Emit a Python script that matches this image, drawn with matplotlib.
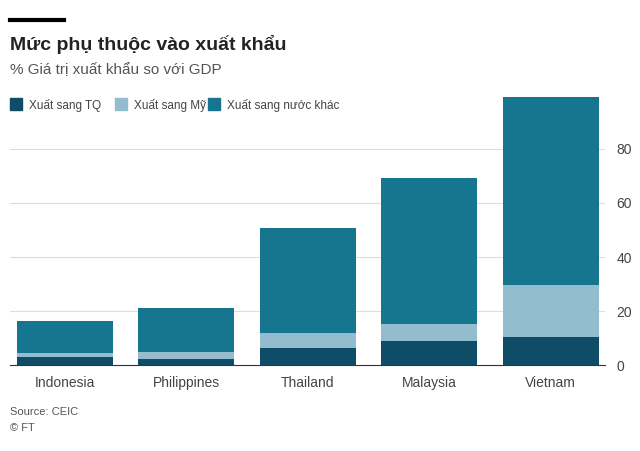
import matplotlib
matplotlib.use("Agg")
import matplotlib.pyplot as plt
import numpy as np

countries = ["Indonesia", "Philippines", "Thailand", "Malaysia", "Vietnam"]
to_china = [3.0, 2.2, 6.3, 8.8, 10.3]
to_us = [1.4, 2.6, 5.5, 6.3, 19.2]
to_other = [11.8, 16.2, 39.1, 54.2, 69.7]
yticks = [0, 20, 40, 60, 80]
labels = ["Xuất sang TQ", "Xuất sang Mỹ", "Xuất sang nước khác"]
colors = ["#0f4c68", "#93bccf", "#16758f"]

plt.rcParams["font.family"] = "Liberation Sans"
fig = plt.figure(figsize=(6.4, 4.51), dpi=100)
ax = fig.add_axes([0.016, 0.19, 0.93, 0.60])
x = np.arange(len(countries))
w = 0.79
ax.bar(x, to_china, w, color=colors[0], zorder=3)
ax.bar(x, to_us, w, bottom=to_china, color=colors[1], zorder=3)
b2 = np.array(to_china) + np.array(to_us)
ax.bar(x, to_other, w, bottom=b2, color=colors[2], zorder=3)
ax.set_xlim(-0.45, 4.45)
ax.set_ylim(0, 100)
ax.set_yticks(yticks)
ax.yaxis.tick_right()
ax.tick_params(axis="y", length=0, labelsize=10, colors="#444444", pad=8)
ax.tick_params(axis="x", length=0, labelsize=10, colors="#444444", pad=8)
ax.set_xticks(x)
ax.set_xticklabels(countries)
ax.grid(axis="y", color="#dddddd", lw=0.8, zorder=0)
for s in ["top", "right", "left"]:
    ax.spines[s].set_visible(False)
ax.spines["bottom"].set_color("#333333")

fig.add_artist(plt.Line2D([0.016, 0.1], [0.955, 0.955], color="black", lw=3))
fig.text(0.016, 0.89, "Mức phụ thuộc vào xuất khẩu", fontsize=14, fontweight="bold", color="#222222")
fig.text(0.016, 0.835, "% Giá trị xuất khẩu so với GDP", fontsize=11, color="#555555")
lx = [0.016, 0.18, 0.325]
for i in range(3):
    fig.add_artist(plt.Rectangle((lx[i], 0.755), 0.018, 0.028, color=colors[i], transform=fig.transFigure))
    fig.text(lx[i] + 0.03, 0.758, labels[i], fontsize=8.5, color="#444444")
fig.text(0.016, 0.08, "Source: CEIC", fontsize=8, color="#555555")
fig.text(0.016, 0.045, "© FT", fontsize=8, color="#555555")
fig.savefig("out.png", dpi=100, facecolor="white")
